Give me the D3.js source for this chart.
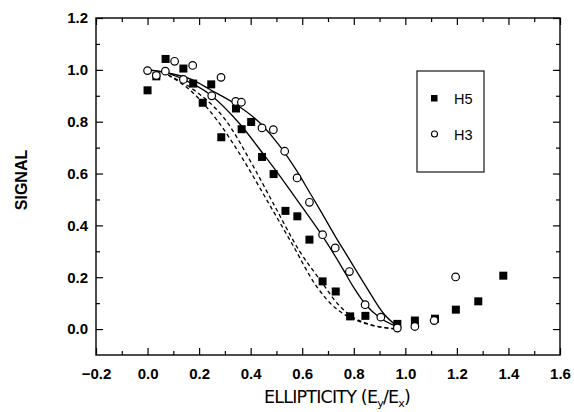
<!DOCTYPE html>
<html>
<head>
<meta charset="utf-8">
<script src="https://cdn.jsdelivr.net/npm/d3@7"></script>
<style>
  html, body { margin: 0; padding: 0; background: #fff; }
  svg { display: block; }
</style>
</head>
<body>
<svg id="chart" width="574" height="412"></svg>
<script>
// ---- data ----
const h5X = [0.00, 0.034, 0.070, 0.139, 0.177, 0.214, 0.247, 0.286, 0.343, 0.365, 0.402, 0.444, 0.489, 0.535, 0.581, 0.628, 0.679, 0.730, 0.786, 0.845, 0.969, 1.037, 1.115, 1.196, 1.283, 1.380];
const h5Y = [0.921, 0.975, 1.042, 1.005, 0.947, 0.873, 0.944, 0.740, 0.851, 0.771, 0.799, 0.664, 0.598, 0.456, 0.435, 0.345, 0.184, 0.145, 0.049, 0.051, 0.020, 0.033, 0.040, 0.075, 0.107, 0.206];

const h3X = [0.00, 0.034, 0.069, 0.105, 0.139, 0.175, 0.249, 0.285, 0.342, 0.364, 0.444, 0.488, 0.532, 0.580, 0.628, 0.679, 0.728, 0.783, 0.844, 0.905, 0.969, 1.037, 1.112, 1.195];
const h3Y = [0.997, 0.978, 0.995, 1.033, 0.963, 1.017, 0.900, 0.971, 0.878, 0.875, 0.776, 0.769, 0.686, 0.583, 0.489, 0.364, 0.313, 0.222, 0.094, 0.046, 0.004, 0.010, 0.033, 0.201];

const solidUpperX = [0.00, 0.068, 0.177, 0.242, 0.333, 0.436, 0.514, 0.579, 0.630, 0.669, 0.730, 0.773, 0.850, 0.914, 0.975];
const solidUpperY = [1.00, 0.990, 0.960, 0.924, 0.873, 0.795, 0.705, 0.610, 0.525, 0.460, 0.355, 0.285, 0.160, 0.062, 0.005];

const solidLowerX = [0.00, 0.068, 0.139, 0.242, 0.359, 0.449, 0.510, 0.600, 0.675, 0.750, 0.800, 0.850, 0.900, 0.966];
const solidLowerY = [1.00, 0.990, 0.963, 0.905, 0.790, 0.675, 0.595, 0.470, 0.364, 0.245, 0.160, 0.090, 0.045, 0.010];

const dashLeftX = [0.080, 0.177, 0.268, 0.371, 0.462, 0.560, 0.656, 0.730, 0.785, 0.850, 0.970];
const dashLeftY = [0.980, 0.911, 0.808, 0.654, 0.499, 0.330, 0.164, 0.080, 0.045, 0.020, 0.000];

const dashRightX = [0.080, 0.190, 0.300, 0.410, 0.494, 0.590, 0.669, 0.740, 0.790, 0.850, 0.970];
const dashRightY = [0.980, 0.915, 0.810, 0.628, 0.473, 0.300, 0.190, 0.095, 0.050, 0.022, 0.000];

const xTicks = [-0.2, 0.0, 0.2, 0.4, 0.6, 0.8, 1.0, 1.2, 1.4, 1.6];
const yTicks = [0.0, 0.2, 0.4, 0.6, 0.8, 1.0, 1.2];
const xMinor = [-0.1, 0.1, 0.3, 0.5, 0.7, 0.9, 1.1, 1.3, 1.5];
const yMinor = [0.1, 0.3, 0.5, 0.7, 0.9, 1.1];

const legendLabels = ["H5", "H3"];

// ---- drawing ----
const svg = d3.select("#chart");
const L = 96, R = 560, T = 18, B = 355;
const x = d3.scaleLinear().domain([-0.2, 1.6]).range([L, R]);
const y = d3.scaleLinear().domain([-0.1, 1.2]).range([B, T]);

const tickFont = "'Liberation Sans', Arial, sans-serif";

// frame
svg.append("rect").attr("x", L).attr("y", T).attr("width", R - L).attr("height", B - T)
  .attr("fill", "none").attr("stroke", "#000").attr("stroke-width", 1.4);

function styleAxis(g) {
  g.select(".domain").remove();
  g.selectAll(".tick line").attr("stroke", "#000").attr("stroke-width", 1.2);
  g.selectAll("text").attr("font-family", tickFont).attr("font-size", 15)
    .attr("font-weight", "bold").attr("fill", "#000");
}

// bottom
svg.append("g").attr("transform", `translate(0,${B})`)
  .call(d3.axisBottom(x).tickValues(xTicks).tickSize(-7).tickPadding(13).tickFormat(d3.format(".1f")))
  .call(styleAxis);
svg.append("g").attr("transform", `translate(0,${B})`)
  .call(d3.axisBottom(x).tickValues(xMinor).tickSize(-4).tickFormat(""))
  .call(styleAxis);
// top
svg.append("g").attr("transform", `translate(0,${T})`)
  .call(d3.axisTop(x).tickValues(xTicks).tickSize(-7).tickFormat(""))
  .call(styleAxis);
svg.append("g").attr("transform", `translate(0,${T})`)
  .call(d3.axisTop(x).tickValues(xMinor).tickSize(-4).tickFormat(""))
  .call(styleAxis);
// left
svg.append("g").attr("transform", `translate(${L},0)`)
  .call(d3.axisLeft(y).tickValues(yTicks).tickSize(-7).tickPadding(8).tickFormat(d3.format(".1f")))
  .call(styleAxis);
svg.append("g").attr("transform", `translate(${L},0)`)
  .call(d3.axisLeft(y).tickValues(yMinor).tickSize(-4).tickFormat(""))
  .call(styleAxis);
// right
svg.append("g").attr("transform", `translate(${R},0)`)
  .call(d3.axisRight(y).tickValues(yTicks).tickSize(-7).tickFormat(""))
  .call(styleAxis);
svg.append("g").attr("transform", `translate(${R},0)`)
  .call(d3.axisRight(y).tickValues(yMinor).tickSize(-4).tickFormat(""))
  .call(styleAxis);

// lines
const line = d3.line().x(d => x(d[0])).y(d => y(d[1])).curve(d3.curveMonotoneX);
const zip = (a, b) => a.map((v, i) => [v, b[i]]);

svg.append("path").datum(zip(solidUpperX, solidUpperY)).attr("d", line)
  .attr("fill", "none").attr("stroke", "#000").attr("stroke-width", 1.3);
svg.append("path").datum(zip(solidLowerX, solidLowerY)).attr("d", line)
  .attr("fill", "none").attr("stroke", "#000").attr("stroke-width", 1.3);
svg.append("path").datum(zip(dashLeftX, dashLeftY)).attr("d", line)
  .attr("fill", "none").attr("stroke", "#000").attr("stroke-width", 1.3).attr("stroke-dasharray", "4,3");
svg.append("path").datum(zip(dashRightX, dashRightY)).attr("d", line)
  .attr("fill", "none").attr("stroke", "#000").attr("stroke-width", 1.3).attr("stroke-dasharray", "4,3");

// H5 squares
const sq = 8;
svg.append("g").selectAll("rect").data(zip(h5X, h5Y)).join("rect")
  .attr("x", d => x(d[0]) - sq / 2).attr("y", d => y(d[1]) - sq / 2)
  .attr("width", sq).attr("height", sq).attr("fill", "#000");

// H3 circles
svg.append("g").selectAll("circle").data(zip(h3X, h3Y)).join("circle")
  .attr("cx", d => x(d[0])).attr("cy", d => y(d[1])).attr("r", 3.8)
  .attr("fill", "#fff").attr("stroke", "#000").attr("stroke-width", 1.2);

// legend
svg.append("rect").attr("x", 417).attr("y", 71).attr("width", 67).attr("height", 101)
  .attr("fill", "#fff").attr("stroke", "#000").attr("stroke-width", 1.1);
svg.append("rect").attr("x", 431).attr("y", 95).attr("width", 6.5).attr("height", 6.5).attr("fill", "#000");
svg.append("circle").attr("cx", 434.5).attr("cy", 134).attr("r", 3)
  .attr("fill", "#fff").attr("stroke", "#000").attr("stroke-width", 1.1);
svg.append("g").selectAll("text").data(legendLabels).join("text")
  .attr("x", 454).attr("y", (d, i) => 103.5 + i * 36)
  .attr("font-family", tickFont).attr("font-size", 14.5).attr("fill", "#000")
  .text(d => d);

// axis titles
const xt = svg.append("text").attr("x", 337).attr("y", 403).attr("text-anchor", "middle")
  .attr("font-family", "'DejaVu Sans', sans-serif").attr("font-size", 17.5).attr("fill", "#000")
  .attr("letter-spacing", "-0.8");
xt.append("tspan").text("ELLIPTICITY (E");
xt.append("tspan").attr("font-size", 11).attr("dy", 4).text("y");
xt.append("tspan").attr("dy", -4).text("/E");
xt.append("tspan").attr("font-size", 11).attr("dy", 4).text("x");
xt.append("tspan").attr("dy", -4).text(")");

svg.append("text").attr("transform", "translate(27,180) rotate(-90)")
  .attr("text-anchor", "middle")
  .attr("font-family", tickFont).attr("font-size", 16).attr("font-weight", "bold").attr("fill", "#000")
  .text("SIGNAL");
</script>
</body>
</html>
